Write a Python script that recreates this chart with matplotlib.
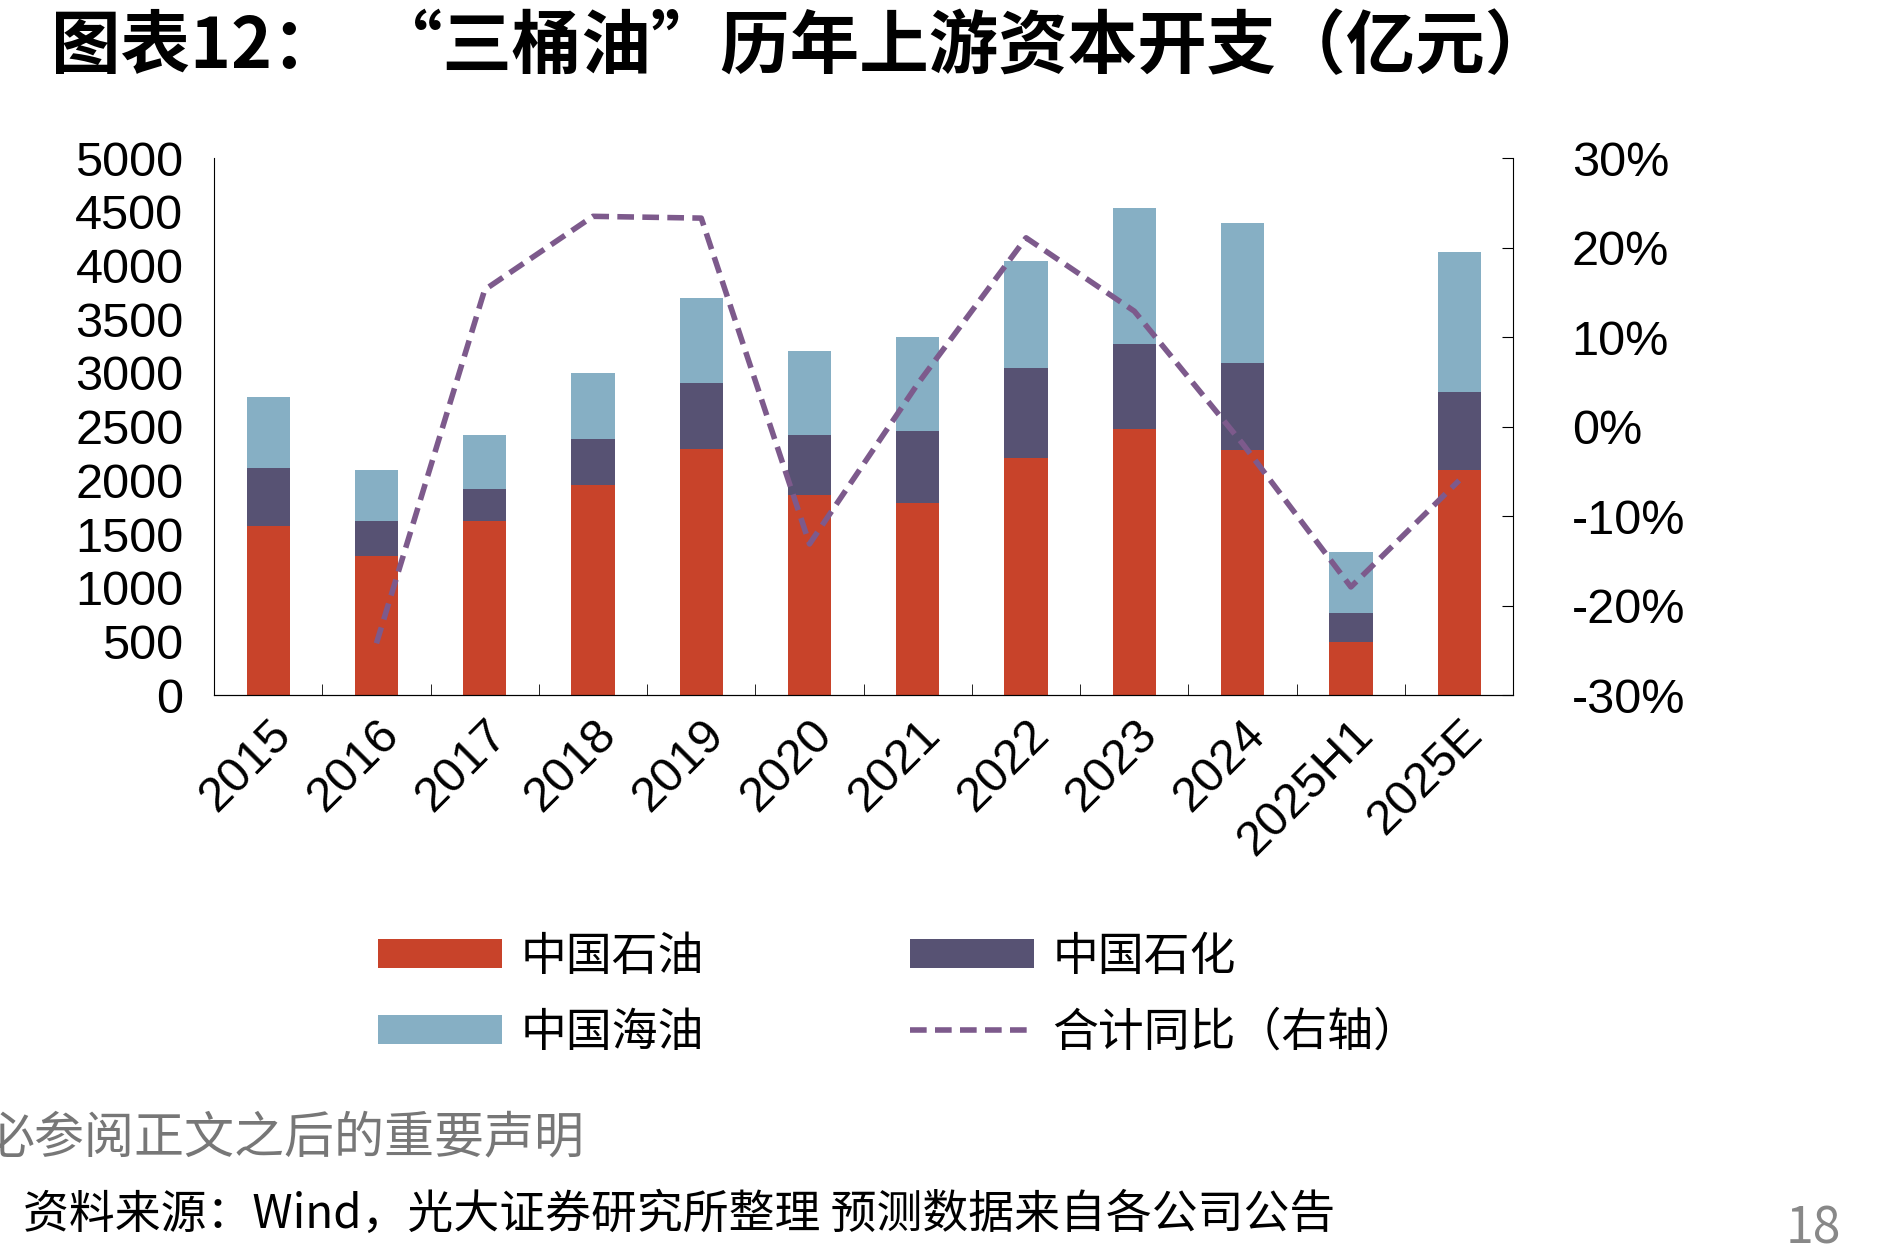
import matplotlib
matplotlib.use("Agg")
import matplotlib.pyplot as plt
import numpy as np

plt.rcParams['font.family'] = ['Noto Sans CJK SC', 'DejaVu Sans']

categories = ["2015","2016","2017","2018","2019","2020","2021","2022","2023","2024","2025H1","2025E"]
cnpc = [1573,1292,1618,1955,2292,1865,1787,2213,2483,2281,494,2101]
sinopec = [539,326,303,427,618,562,674,832,787,809,270,719]
cnooc = [663,483,506,618,787,775,876,1000,1269,1303,573,1304]
yoy_cats = ["2016","2017","2018","2019","2020","2021","2022","2023","2024","2025H1","2025E"]
yoy = [-24.2,15.3,23.5,23.3,-13.1,4.8,21.1,12.9,-1.9,-17.9,-6.0]

lat = ['Liberation Sans','DejaVu Sans']
fig = plt.figure(figsize=(18.94,12.55), dpi=100)
ax = fig.add_axes([0.113,0.446,0.686,0.428])
x = np.arange(len(categories))
w = 0.4
c1,c2,c3 = "#C8432A","#575273","#86AFC4"
b1 = ax.bar(x,cnpc,w,color=c1)
b2 = ax.bar(x,sinopec,w,bottom=cnpc,color=c2)
b3 = ax.bar(x,cnooc,w,bottom=np.array(cnpc)+np.array(sinopec),color=c3)
ax.set_xlim(-0.5,len(categories)-0.5)
ax.set_ylim(0,5000)
ax.set_yticks(range(0,5001,500))
ax.set_xticks(x)
ax.set_xticklabels(categories,rotation=45,ha="right",rotation_mode="anchor",fontsize=35,family=lat)
ax.set_xticks(np.arange(-0.5,len(categories),1),minor=True)
ax.tick_params(axis='x',which='major',length=0,pad=12)
ax.tick_params(axis='x',which='minor',length=8,direction='in')
ax.tick_params(axis='y',labelsize=35,length=0,pad=22)
for l in ax.get_yticklabels(): l.set_family(lat)
for s in ['top','right']: ax.spines[s].set_visible(False)

ax2 = ax.twinx()
xi = [categories.index(c) for c in yoy_cats]
ln, = ax2.plot(xi,yoy,color="#7D5A8C",lw=4,ls=(0,(3,1.5)))
ax2.set_ylim(-30,30)
ax2.set_yticks(range(-30,31,10))
ax2.set_yticklabels([f"{v}%" for v in range(-30,31,10)],family=lat)
ax2.tick_params(axis='y',labelsize=35,length=8,direction='in',pad=42)
for s in ['top','left']: ax2.spines[s].set_visible(False)

fig.legend([b1,b3,b2,ln],["中国石油","中国海油","中国石化","合计同比（右轴）"],
           loc='upper left',bbox_to_anchor=(0.178,0.29),ncol=2,frameon=False,
           fontsize=33,columnspacing=4.5,handlelength=2.7,handleheight=0.6,labelspacing=0.6,handletextpad=0.4)

fig.text(0.027,0.962,"图表12：  “三桶油”历年上游资本开支（亿元）",fontsize=50,fontweight='bold',va='center')
fig.text(-0.008,0.093,"必参阅正文之后的重要声明",fontsize=36,color="#777777",va='center')
fig.text(0.012,0.032,"资料来源：Wind，光大证券研究所整理 预测数据来自各公司公告",fontsize=33,va='center')
fig.text(0.943,0.02,"18",fontsize=36,color="#888888",va='center')
fig.savefig("out.png",dpi=100)
